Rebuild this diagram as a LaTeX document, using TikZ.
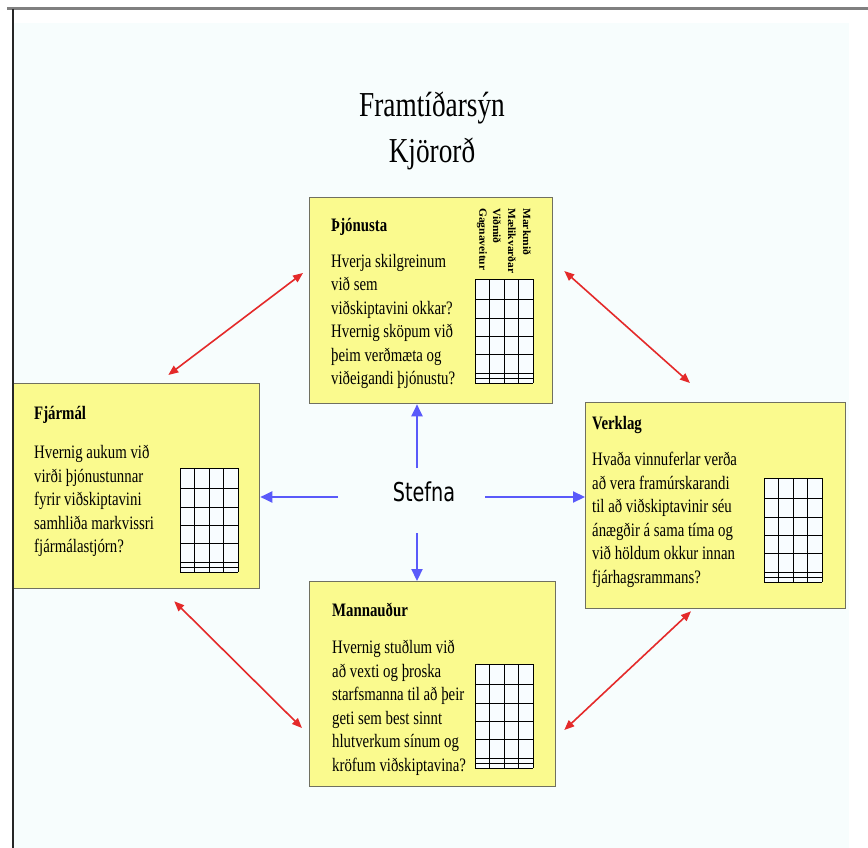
\documentclass[tikz,border=0pt]{standalone}
\usepackage{fontspec}
\setmainfont{Liberation Serif}[FakeStretch=0.78]
\newfontfamily\stefnafont{DejaVu Sans}[FakeStretch=0.74]
\newfontfamily\colfont{Liberation Serif}[FakeStretch=1.05]
\usetikzlibrary{arrows.meta,calc}

\definecolor{pagebg}{HTML}{F7FDFD}
\definecolor{cardfill}{HTML}{FAFA8E}
\definecolor{cardline}{HTML}{707060}
\definecolor{gridfill}{HTML}{F8FCFF}
\definecolor{linkred}{HTML}{E42A2A}
\definecolor{flowblue}{HTML}{5A5AFA}

\tikzset{
  card/.style={draw=cardline, line width=1.3pt, fill=cardfill, inner sep=0pt, anchor=north west},
  cardtitle/.style={anchor=base west, inner sep=0pt, font=\fontsize{19}{23.5}\selectfont\bfseries},
  cardbody/.style={anchor=north west, inner sep=0pt, align=left, font=\fontsize{19}{23.5}\selectfont},
  collabel/.style={rotate=-90, anchor=west, inner sep=0pt, font=\colfont\fontsize{11}{12}\selectfont\bfseries},
  link/.style={draw=linkred, line width=1.6pt, {Triangle[length=10pt,width=8pt]}-{Triangle[length=10pt,width=8pt]}},
  flow/.style={draw=flowblue, line width=2.2pt, -{Triangle[length=12pt,width=11pt]}},
  pics/scoregrid/.style={code={
    \fill[gridfill] (0,0) rectangle (58,104);
    \foreach \gx in {0,14.5,29,43.5,58} \draw[line width=0.8pt] (\gx,0) -- (\gx,104);
    \foreach \gy in {0,20.7,39,57.3,75.7,94,99,104} \draw[line width=0.8pt] (0,\gy) -- (58,\gy);
  }},
}

\begin{document}
\begin{tikzpicture}[x=1pt,y=-1pt]
  \useasboundingbox (0,0) rectangle (868,848);
  % page background
  \fill[pagebg] (14,23) rectangle (849,848);
  \draw[line width=3pt, color=gray] (7,9) -- (868,9);

  % headings
  \node[font=\fontsize{35}{40}\selectfont, anchor=base, inner sep=0pt] (vision) at (432,117) {Framtíðarsýn};
  \node[font=\fontsize{35}{40}\selectfont, anchor=base, inner sep=0pt] (motto) at (432,163) {Kjörorð};

  % the four perspective cards
  \node[card, minimum width=243pt, minimum height=206pt] (thj) at (309,197) {};
  \node[card, minimum width=246pt, minimum height=205pt] (fj) at (13,383) {};
  \node[card, minimum width=260pt, minimum height=206pt] (ver) at (585,402) {};
  \node[card, minimum width=246pt, minimum height=205pt] (man) at (309,581) {};

  % Þjónusta
  \node[cardtitle] (thjT) at (331,232) {Þjónusta};
  \node[cardbody] (thjB) at (331,254) {Hverja skilgreinum\\við sem\\viðskiptavini okkar?\\Hvernig sköpum við\\þeim verðmæta og\\viðeigandi þjónustu?};
  \node[collabel] (c1) at (527,208) {Markmið};
  \node[collabel] (c2) at (512,208) {Mælikvarðar};
  \node[collabel] (c3) at (497,208) {Viðmið};
  \node[collabel] (c4) at (482,208) {Gagnaveitur};
  \pic at (475,279) {scoregrid};

  % Fjármál
  \node[cardtitle] (fjT) at (34,419) {Fjármál};
  \node[cardbody] (fjB) at (34,445) {Hvernig aukum við\\virði þjónustunnar\\fyrir viðskiptavini\\samhliða markvissri\\fjármálastjórn?};
  \pic at (180,468) {scoregrid};

  % Verklag
  \node[cardtitle] (verT) at (592,429) {Verklag};
  \node[cardbody] (verB) at (592,452) {Hvaða vinnuferlar verða\\að vera framúrskarandi\\til að viðskiptavinir séu\\ánægðir á sama tíma og\\við höldum okkur innan\\fjárhagsrammans?};
  \pic at (764,478) {scoregrid};
  \draw[line width=1.4pt] (778.5,478) -- (778.5,582);

  % Mannauður
  \node[cardtitle] (manT) at (332,616) {Mannauður};
  \node[cardbody] (manB) at (332,640) {Hvernig stuðlum við\\að vexti og þroska\\starfsmanna til að þeir\\geti sem best sinnt\\hlutverkum sínum og\\kröfum viðskiptavina?};
  \pic at (475,664) {scoregrid};

  % strategy in the centre
  \node[font=\stefnafont\fontsize{26}{30}\selectfont, inner sep=0pt] (stefna) at (424,492) {Stefna};
  \coordinate (su) at (417,468);
  \coordinate (sd) at (417,533);
  \coordinate (sr) at (485,497);
  \coordinate (sl) at (338,497);
  \draw[flow] (su) -- (su |- thj.south);
  \draw[flow] (sd) -- (sd |- man.north);
  \draw[flow] (sr) -- (sr -| ver.west);
  \draw[flow] (sl) -- (sl -| fj.east);

  % links between neighbouring cards
  \draw[link] ($(fj.north east)+(-92,-8)$) -- ($(thj.north west)+(-6,76)$);
  \draw[link] ($(thj.north east)+(11,74)$) -- ($(ver.north west)+(105,-19)$);
  \draw[link] ($(fj.south east)+(-86,12)$) -- ($(man.north west)+(-7,147)$);
  \draw[link] ($(ver.south west)+(106,2)$) -- ($(man.north east)+(8,149)$);

  % left frame edge
  \draw[line width=2.5pt, black!85] (13,9) -- (13,848);
\end{tikzpicture}
\end{document}
